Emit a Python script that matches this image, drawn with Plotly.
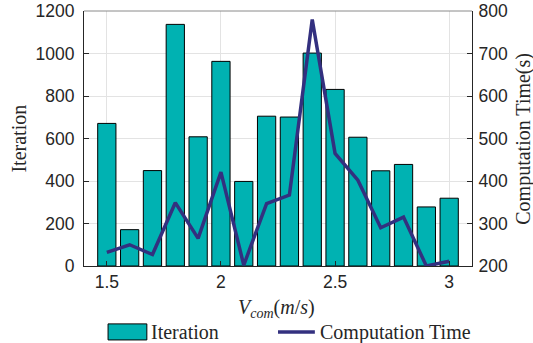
import plotly.graph_objects as go

speed = [1.5, 1.6, 1.7, 1.8, 1.9, 2.0, 2.1, 2.2, 2.3, 2.4, 2.5, 2.6, 2.7, 2.8, 2.9, 3.0]
iterations = [671, 171, 449, 1137, 608, 963, 398, 705, 701, 1002, 831, 606, 448, 478, 278, 319]
comp_time = [232, 250, 227, 349, 265, 421, 202, 347, 367, 780, 465, 402, 290, 315, 200, 211]

x_ticks = [1.5, 2, 2.5, 3]
x_tick_labels = ["1.5", "2", "2.5", "3"]
y1_ticks = [0, 200, 400, 600, 800, 1000, 1200]
y2_ticks = [200, 300, 400, 500, 600, 700, 800]

bar_color = "#00b2b2"
line_color = "#33307f"
axis_color = "#262626"
grid_color = "#e3e3e3"
tick_font = dict(family="Liberation Sans, Arial, sans-serif", size=17.5, color=axis_color)
serif = "Liberation Serif, Times New Roman, serif"
serif_font = dict(family=serif, size=20, color=axis_color)

fig = go.Figure()
fig.add_trace(go.Bar(
    x=speed, y=iterations, width=0.08, name="Iteration",
    marker=dict(color=bar_color, line=dict(color="black", width=1)),
    yaxis="y", showlegend=False,
))
fig.add_trace(go.Scatter(
    x=speed, y=comp_time, mode="lines", name="Computation Time",
    line=dict(color=line_color, width=3.5),
    yaxis="y2", showlegend=False,
))

fig.update_layout(
    width=533, height=343,
    margin=dict(l=84, r=61, t=11, b=77, autoexpand=False),
    paper_bgcolor="white", plot_bgcolor="white",
    xaxis=dict(range=[1.4, 3.1], tickvals=x_ticks, ticktext=x_tick_labels,
               showgrid=True, gridcolor=grid_color, gridwidth=1,
               showline=True, linecolor=axis_color, linewidth=1,
               ticks="inside", ticklen=5, tickcolor=axis_color,
               tickfont=tick_font, zeroline=False, automargin=False),
    yaxis=dict(range=[0, 1200], tickvals=y1_ticks,
               showgrid=True, gridcolor=grid_color, gridwidth=1,
               showline=True, linecolor=axis_color, linewidth=1,
               ticks="inside", ticklen=5, tickcolor=axis_color, ticklabelstandoff=5,
               tickfont=tick_font, zeroline=False, automargin=False),
    yaxis2=dict(range=[200, 800], tickvals=y2_ticks, overlaying="y", side="right",
                showgrid=False, showline=True, linecolor=axis_color, linewidth=1,
                ticks="inside", ticklen=5, tickcolor=axis_color, ticklabelstandoff=2,
                tickfont=tick_font, zeroline=False, automargin=False),
    shapes=[
        dict(type="line", xref="paper", yref="paper", x0=0, x1=1, y0=1, y1=1,
             line=dict(color="#8a8a8a", width=1)),
        dict(type="rect", xref="paper", yref="paper", x0=0.062, x1=0.162, y0=-0.290, y1=-0.227,
             fillcolor=bar_color, line=dict(color="black", width=1)),
        dict(type="line", xref="paper", yref="paper", x0=0.50, x1=0.595, y0=-0.259, y1=-0.259,
             line=dict(color=line_color, width=3.5)),
    ],
    annotations=[
        dict(text="Iteration", xref="paper", yref="paper", x=-0.17, y=0.5,
             xanchor="center", yanchor="middle",
             textangle=-90, showarrow=False, font=serif_font),
        dict(text="Computation Time(s)", xref="paper", yref="paper", x=1.132, y=0.5,
             xanchor="center", yanchor="middle",
             textangle=-90, showarrow=False, font=serif_font),
        dict(text="<i>V</i><sub><i>com</i></sub>(<i>m</i>/<i>s</i>)", xref="paper", yref="paper",
             x=0.497, y=-0.165, xanchor="center", yanchor="middle",
             showarrow=False, font=serif_font),
        dict(text="Iteration", xref="paper", yref="paper", x=0.168, y=-0.259,
             xanchor="left", yanchor="middle", showarrow=False, font=serif_font),
        dict(text="Computation Time", xref="paper", yref="paper", x=0.604, y=-0.259,
             xanchor="left", yanchor="middle", showarrow=False, font=serif_font),
    ],
)

fig.write_html("out.html", post_script="document.body.style.margin='0';",
               config={"displayModeBar": False})
